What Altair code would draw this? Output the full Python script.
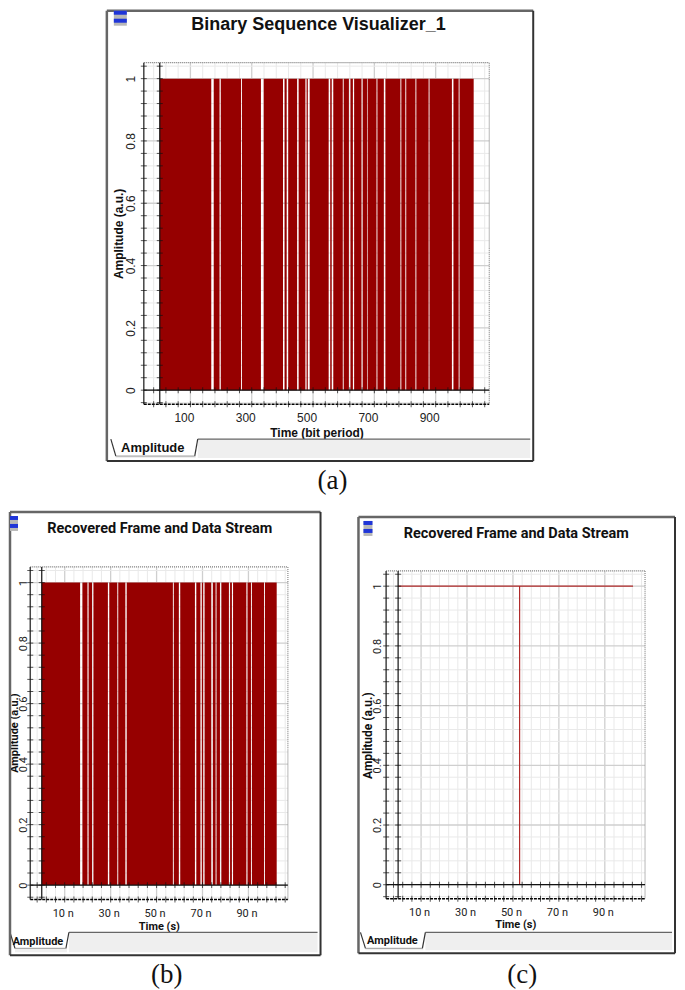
import altair as alt
import pandas as pd

# ---------- data ----------
BITS_TOTAL = 1024
a_gaps_start = [168, 195, 265, 330, 402, 414, 448, 475, 483, 551, 561, 597, 617, 630, 658, 676, 707, 731, 785, 801, 834, 877, 953, 975]
a_gaps_end = [176, 199, 268, 339, 407, 419, 453, 479, 489, 556, 566, 600, 622, 634, 662, 678, 710, 736, 788, 804, 837, 880, 958, 978]
NS_TOTAL = 102.3
b_gaps_start = [16.7, 19.9, 21.9, 28.8, 32.9, 36.4, 57.1, 59.7, 66.7, 69.1, 70.3, 73.8, 75.7, 77.6, 81.5, 82.8, 89.1, 91.1, 96.8]
b_gaps_end = [17.7, 20.4, 22.5, 29.4, 33.3, 37.0, 57.5, 60.3, 67.3, 69.7, 70.9, 74.5, 76.1, 78.2, 82.0, 83.3, 89.6, 91.5, 97.2]
c_x = [0, 52.9, 52.9, 52.9, 102.3]
c_y = [1, 1, 0, 1, 1]

a_labels = [100, 300, 500, 700, 900]
ns_labels = [10, 30, 50, 70, 90]
y_labels = [0, 0.2, 0.4, 0.6, 0.8, 1]
a_grid = list(range(-20, 1061, 40))
ns_grid = list(range(-2, 107, 4))
y_grid = [round(-0.04 + 0.04 * i, 2) for i in range(28)]

DARK_RED = "#960000"
LINE_RED = "#b02a2a"
SANS = "Liberation Sans"
NARROW = "Roboto"
SERIF = "Liberation Serif"
ONE = pd.DataFrame({"k": [0]})


def segments(starts, ends, total):
    s, e, cur = [], [], 0
    for a, b in zip(starts, ends):
        s.append(cur)
        e.append(a)
        cur = b
    s.append(cur)
    e.append(total)
    return pd.DataFrame({"x": s, "x2": e, "y": [0] * len(s), "y2": [1] * len(s)})


def panel(p):
    vx, vy, vw, vh = p["view"]
    X = lambda v: v - vx
    Y = lambda v: v - vy
    xpx = lambda d: p["x0"] + d * p["xs"]
    ypx = lambda d: p["y0"] - d * p["ys"]
    sx = alt.Scale(domain=[(vx - p["x0"]) / p["xs"], (vx + vw - p["x0"]) / p["xs"]], nice=False, zero=False)
    sy = alt.Scale(domain=[(p["y0"] - vy - vh) / p["ys"], (p["y0"] - vy) / p["ys"]], nice=False, zero=False)
    L, R, T, B = p["plot"]
    d_left = (L - p["x0"]) / p["xs"]
    d_right = (R - p["x0"]) / p["xs"]
    d_top = (p["y0"] - T) / p["ys"]
    d_bot = (p["y0"] - B) / p["ys"]

    layers = []

    def seg(x1, y1, x2, y2, color, width, dash=None):
        kw = {"color": color, "strokeWidth": width}
        if dash:
            kw["strokeDash"] = dash
        layers.append(alt.Chart(ONE).mark_rule(**kw).encode(
            x=alt.value(X(x1)), x2=alt.value(X(x2)), y=alt.value(Y(y1)), y2=alt.value(Y(y2))))

    def box(x1, y1, x2, y2, color):
        layers.append(alt.Chart(ONE).mark_rect(color=color).encode(
            x=alt.value(X(x1)), x2=alt.value(X(x2)), y=alt.value(Y(y1)), y2=alt.value(Y(y2))))

    def text(t, x, y, size, font, weight="normal", color="#1a1a1a", angle=0):
        layers.append(alt.Chart(pd.DataFrame({"t": [t]})).mark_text(
            fontSize=size, font=font, fontWeight=weight, color=color, angle=angle,
            align="center", baseline="middle").encode(
            x=alt.value(X(x)), y=alt.value(Y(y)), text="t:N"))

    gx = pd.DataFrame({"x": p["xgrid"]})
    gx["a"], gx["b"] = d_bot, d_top
    gx["major"] = gx["x"].isin(p["xlabels"])
    gy = pd.DataFrame({"y": y_grid})
    gy["a"], gy["b"] = d_left, d_right
    gy["major"] = gy["y"].isin(y_labels)

    xaxis = alt.Axis(values=p["xlabels"], labelExpr=p["labelexpr"], grid=False, domain=False, ticks=False,
                     orient="bottom", offset=-(vy + vh - B), labelPadding=p["lab_pad_x"],
                     labelOffset=p["lab_off"], labelFont=p["font"], labelFontSize=p["fs"], labelColor="#222222",
                     labelOverlap=False, labelFlush=False,
                     title=p["xtitle"], titleFont=p["font"], titleFontSize=p["ts"], titleFontWeight="bold",
                     titleColor="#111111", titleX=p["xt"][0] - vx, titleY=p["xt"][1] - B,
                     titleAlign="center", titleBaseline="middle")
    yaxis = alt.Axis(values=y_labels, labelExpr="'' + datum.value", grid=False, domain=False, ticks=False, orient="left",
                     offset=-(L - vx), labelAngle=270, labelAlign="center", labelBaseline="bottom",
                     labelPadding=p["lab_pad_y"], labelFont=p["font"], labelFontSize=p["fs"], labelColor="#222222",
                     labelOverlap=False, labelFlush=False,
                     title="Amplitude (a.u.)", titleFont=p["font"], titleFontSize=p["yts"], titleFontWeight="bold",
                     titleColor="#111111", titleAngle=270, titleX=p["yt"][0] - L, titleY=p["yt"][1] - vy,
                     titleAlign="center", titleBaseline="middle")
    xe = lambda f: alt.X(f, scale=sx, axis=xaxis)
    ye = lambda f: alt.Y(f, scale=sy, axis=yaxis)

    layers.append(alt.Chart(gx).mark_rule().encode(
        x=xe("x:Q"), y=ye("a:Q"), y2="b:Q",
        color=alt.condition("datum.major", alt.value("#cfcfcf"), alt.value("#e9e9e9")),
        strokeWidth=alt.condition("datum.major", alt.value(1.3), alt.value(1))))
    layers.append(alt.Chart(gy).mark_rule().encode(
        y=ye("y:Q"), x=xe("a:Q"), x2="b:Q",
        color=alt.condition("datum.major", alt.value("#cfcfcf"), alt.value("#e9e9e9")),
        strokeWidth=alt.condition("datum.major", alt.value(1.3), alt.value(1))))

    # signal
    if p["pulses"] is not None:
        layers.append(alt.Chart(p["pulses"]).mark_rect(color=DARK_RED, stroke=None).encode(
            x=xe("x:Q"), x2="x2:Q", y=ye("y:Q"), y2="y2:Q"))
    else:
        line = pd.DataFrame({"x": c_x, "y": c_y, "i": range(len(c_x))})
        layers.append(alt.Chart(line).mark_line(color=LINE_RED, strokeWidth=1.2).encode(
            x=xe("x:Q"), y=ye("y:Q"), order="i:Q"))

    # plot border and axis lines
    seg(L, T, R, T, "#777777", 1.2, [1, 1])
    seg(R, T, R, B, "#888888", 1.2, [1, 1])
    seg(L, T, L, B, "#444444", 1.5)
    seg(L, B, R, B, "#000000", 1.5, [3, 1])
    seg(xpx(0), T, xpx(0), B, "#111111", 1.2)
    seg(L, ypx(0), R, ypx(0), "#111111", 1.2)

    # small ticks on both axis pairs
    for ycol in (d_bot, 0):
        t = pd.DataFrame({"x": p["xgrid"], "y": [ycol] * len(p["xgrid"])})
        layers.append(alt.Chart(t).mark_tick(orient="vertical", color="#111111", size=6, thickness=1).encode(
            x=xe("x:Q"), y=ye("y:Q")))
    for xcol in (d_left, 0):
        t = pd.DataFrame({"y": y_grid, "x": [xcol] * len(y_grid)})
        layers.append(alt.Chart(t).mark_tick(orient="horizontal", color="#111111", size=6, thickness=1).encode(
            x=xe("x:Q"), y=ye("y:Q")))

    # window frame
    fl, fr, ft, fb = p["frame"]
    ftab = p["tab"]
    box(ftab["x2"], ftab["y"], fr - 3, fb - 3, "#efefef")
    box(ftab["x0"] + 5, ftab["yb"], ftab["x2"] - 2, fb - 3, "#efefef")
    seg(ftab["x2"], ftab["y"], fr - 3, ftab["y"], "#666666", 1.3)
    seg(ftab["x0"], ftab["y"], ftab["x0"] + 5, ftab["yb"], "#333333", 1.2)
    seg(ftab["x2"], ftab["y"], ftab["x2"] - 3, ftab["yb"], "#333333", 1.2)
    seg(ftab["x0"] + 5, ftab["yb"], ftab["x2"] - 3, ftab["yb"], "#999999", 1)
    seg(fl, ft, fr, ft, "#666666", 2.5)
    seg(fl, ft, fl, fb, "#666666", 2.5)
    seg(fr, ft, fr, fb, "#333333", 2)
    seg(fl, fb, fr, fb, "#333333", 2)

    # window icon
    ix, iy = p["icon"]
    box(ix, iy, ix + p["iw"], iy + 15, "#b8b8b8")
    box(ix, iy, ix + p["iw"], iy + 4, "#1f35d8")
    box(ix, iy + 8, ix + p["iw"], iy + 12, "#1f35d8")

    text(p["title"], p["tc"][0], p["tc"][1], p["title_size"], p["font"], "bold", "#111111")
    text("Amplitude", ftab["tx"], ftab["ty"], p["tab_size"], p["font"], "bold", "#111111")
    text(p["cap"], p["capc"][0], p["capc"][1], 27, SERIF, "normal", "#111111")

    return alt.layer(*layers).properties(width=vw, height=vh)


pa = dict(view=(8, 8, 669, 488), x0=159, xs=0.307, y0=389, ys=312, plot=(143, 489, 61, 403),
          xgrid=a_grid, xlabels=a_labels, labelexpr="datum.label", lab_pad_x=8, lab_off=-6.5,
          lab_pad_y=6, font=SANS, fs=12, ts=12, yts=12, xtitle="Time (bit period)", xt=(316, 431), yt=(118, 232),
          pulses=segments(a_gaps_start, a_gaps_end, BITS_TOTAL), frame=(106, 533, 9, 460),
          tab=dict(x0=110, x2=197, y=438, yb=455, tx=152, ty=447), icon=(113, 9), iw=13,
          title="Binary Sequence Visualizer_1", tc=(318, 23), title_size=18, tab_size=13, cap="(a)", capc=(332, 480))
pb = dict(view=(8, 496, 332, 489), x0=40.8, xs=2.3, y0=884.7, ys=303, plot=(29.3, 287.3, 566, 899),
          xgrid=ns_grid, xlabels=ns_labels, labelexpr="datum.value + ' n'", lab_pad_x=8, lab_off=-2,
          lab_pad_y=2, font=NARROW, fs=11, ts=11, yts=11, xtitle="Time (s)", xt=(158, 926), yt=(14, 732),
          pulses=segments(b_gaps_start, b_gaps_end, NS_TOTAL), frame=(9, 320, 511, 955),
          tab=dict(x0=9, x2=68, y=932, yb=948, tx=37, ty=942), icon=(9, 515), iw=8,
          title="Recovered Frame and Data Stream", tc=(159, 528), title_size=14.5, tab_size=11, cap="(b)", capc=(166, 975))
pc = dict(view=(340, 496, 337, 489), x0=397.7, xs=2.3, y0=884.3, ys=299, plot=(385.7, 645, 570, 898.3),
          xgrid=ns_grid, xlabels=ns_labels, labelexpr="datum.value + ' n'", lab_pad_x=8, lab_off=-2,
          lab_pad_y=4, font=NARROW, fs=11, ts=11, yts=12, xtitle="Time (s)", xt=(515, 924), yt=(367.5, 734.5),
          pulses=None, frame=(358, 675, 516, 953),
          tab=dict(x0=360, x2=425, y=932, yb=948, tx=392, ty=941), icon=(363, 520), iw=9,
          title="Recovered Frame and Data Stream", tc=(516, 533), title_size=14.5, tab_size=11, cap="(c)", capc=(522, 975))

row2 = alt.hconcat(panel(pb), panel(pc), spacing=0).properties(bounds="flush")
chart = alt.vconcat(panel(pa), row2, spacing=0).properties(bounds="flush", padding=0, background="white").configure_view(stroke=None)
chart.save("out.html", embed_options={"renderer": "svg", "actions": False})
